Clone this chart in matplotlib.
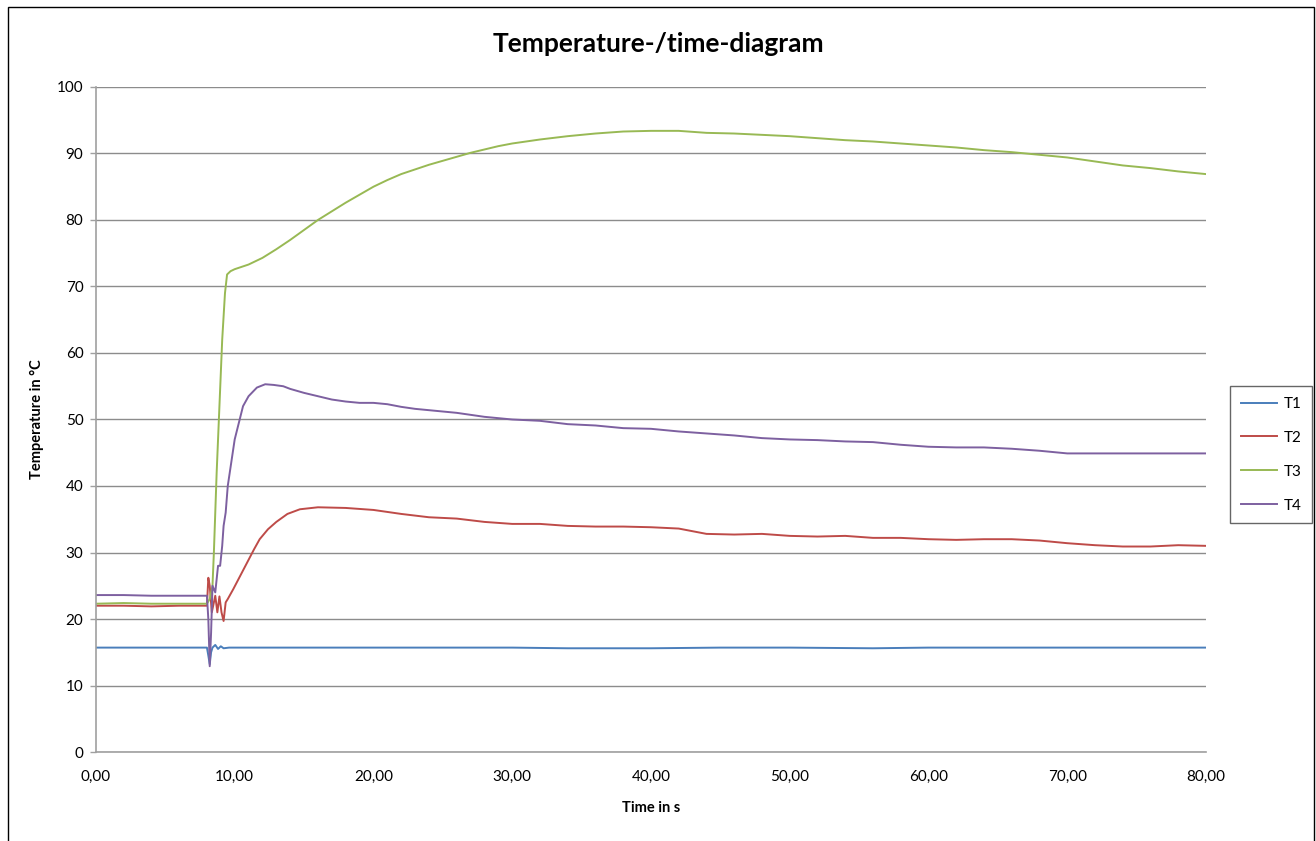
import matplotlib.pyplot as plt
from matplotlib.patches import Rectangle
from matplotlib.ticker import FuncFormatter

plt.rcParams['font.family'] = ['Lato', 'DejaVu Sans']

# time (s) and temperatures (degC)
t1_time = [0, 2, 4, 6, 8.0, 8.1, 8.2, 8.3, 8.4, 8.6, 8.8, 9.0, 9.2, 9.6, 10, 20, 30, 34, 40, 45, 50, 56, 60, 70, 80]
t1_temp = [15.7, 15.7, 15.7, 15.7, 15.7, 14.5, 13.2, 15.0, 15.7, 16.1, 15.5, 15.9, 15.6, 15.7, 15.7, 15.7, 15.7, 15.6, 15.6, 15.7, 15.7, 15.6, 15.7, 15.7, 15.7]

t2_time = [0, 2, 4, 6, 8.0, 8.1, 8.2, 8.35, 8.5, 8.6, 8.75, 8.9, 9.05, 9.2, 9.35, 9.5, 9.9, 10.4, 10.9, 11.4, 11.8, 12.4, 13.0, 13.8, 14.7, 16, 18, 20, 22, 24,
           26, 28, 30, 32, 34, 36, 38, 40, 42, 43, 44, 46, 48, 50, 52, 54, 56, 58, 60, 62, 64, 66, 68, 70, 72, 74, 76, 78, 80]
t2_temp = [22.0, 22.0, 21.9, 22.0, 22.0, 26.2, 25.0, 21.0, 22.5, 23.5, 21.0, 23.4, 21.0, 19.7, 22.5, 23.0, 24.5, 26.5, 28.5, 30.5, 32.0, 33.5, 34.6, 35.8, 36.5, 36.8, 36.7, 36.4, 35.8, 35.3,
           35.1, 34.6, 34.3, 34.3, 34.0, 33.9, 33.9, 33.8, 33.6, 33.2, 32.8, 32.7, 32.8, 32.5, 32.4, 32.5, 32.2, 32.2, 32.0, 31.9, 32.0, 32.0, 31.8, 31.4, 31.1, 30.9, 30.9, 31.1, 31.0]

t3_time = [0, 2, 4, 6, 8.0, 8.2, 8.4, 8.5, 8.7, 8.9, 9.1, 9.3, 9.45, 9.7, 10, 11, 12, 13, 14, 15, 16, 17, 18, 19, 20, 21, 22, 23, 24, 25, 26, 27, 28, 29, 30,
           32, 34, 36, 38, 40, 42, 44, 46, 48, 50, 52, 54, 56, 58, 60, 62, 64, 66, 68, 70, 72, 74, 76, 78, 80]
t3_temp = [22.3, 22.4, 22.3, 22.3, 22.3, 23.0, 25.0, 30.0, 42.0, 52.0, 62.0, 69.0, 71.8, 72.3, 72.6, 73.3, 74.3, 75.6, 77.0, 78.5, 80.0, 81.3, 82.6, 83.8, 85.0, 86.0, 86.9, 87.6, 88.3, 88.9, 89.5, 90.1, 90.6, 91.1, 91.5,
           92.1, 92.6, 93.0, 93.3, 93.4, 93.4, 93.1, 93.0, 92.8, 92.6, 92.3, 92.0, 91.8, 91.5, 91.2, 90.9, 90.5, 90.2, 89.8, 89.4, 88.8, 88.2, 87.8, 87.3, 86.9]

t4_time = [0, 2, 4, 6, 8.0, 8.1, 8.2, 8.3, 8.4, 8.6, 8.8, 8.95, 9.1, 9.2, 9.35, 9.5, 9.75, 10.0, 10.3, 10.6, 11.0, 11.6, 12.2, 12.8, 13.5, 14, 15, 16, 17, 18, 19, 20, 21,
           22, 23, 24, 26, 28, 30, 32, 34, 36, 38, 40, 42, 44, 46, 48, 50, 52, 54, 56, 58, 60, 62, 64, 66, 68, 70, 72, 74, 76, 78, 80]
t4_temp = [23.6, 23.6, 23.5, 23.5, 23.5, 20.0, 12.9, 18.0, 25.0, 24.0, 28.0, 28.0, 31.0, 34.0, 36.0, 40.0, 43.5, 47.0, 49.5, 52.0, 53.5, 54.8, 55.3, 55.2, 55.0, 54.6, 54.0, 53.5, 53.0, 52.7, 52.5, 52.5, 52.3,
           51.9, 51.6, 51.4, 51.0, 50.4, 50.0, 49.8, 49.3, 49.1, 48.7, 48.6, 48.2, 47.9, 47.6, 47.2, 47.0, 46.9, 46.7, 46.6, 46.2, 45.9, 45.8, 45.8, 45.6, 45.3, 44.9, 44.9, 44.9, 44.9, 44.9, 44.9]

series = [("T1", t1_time, t1_temp, "#4A7EBB"),
          ("T2", t2_time, t2_temp, "#BE4B48"),
          ("T3", t3_time, t3_temp, "#98B954"),
          ("T4", t4_time, t4_temp, "#7D60A0")]

fig = plt.figure(figsize=(13.16, 8.41), dpi=100)
ax = fig.add_axes([0.0729, 0.1058, 0.8435, 0.7908])

for name, x, y, c in series:
    ax.plot(x, y, color=c, lw=1.4, label=name)

ax.set_xlim(0, 80)
ax.set_ylim(0, 100)
ax.set_xticks(range(0, 81, 10))
ax.set_yticks(range(0, 101, 10))
ax.xaxis.set_major_formatter(FuncFormatter(lambda v, p: f"{v:.2f}".replace(".", ",")))
ax.grid(axis='y', color='#8C8C8C', lw=1.0)
ax.set_axisbelow(True)
for s in ['top', 'right']:
    ax.spines[s].set_visible(False)
for s in ['left', 'bottom']:
    ax.spines[s].set_color('#A0A0A0')
    ax.spines[s].set_linewidth(1.2)
ax.tick_params(axis='y', colors='#A0A0A0', labelcolor='black', labelsize=11, length=4, width=1.0, pad=5)
ax.tick_params(axis='x', labelcolor='black', labelsize=11, length=0, pad=13)

ax.set_xlabel("Time in s", fontsize=10.5, fontweight='bold', labelpad=12)
ax.set_ylabel("Temperature in °C", fontsize=10.5, fontweight='bold', labelpad=9)
fig.text(0.5, 0.948, "Temperature-/time-diagram", ha='center', va='center', fontsize=19, fontweight='bold')

leg = fig.legend(loc='center', bbox_to_anchor=(0.9658, 0.4593), frameon=True, fancybox=False,
                 fontsize=11, handlelength=2.4, labelspacing=1.3, borderpad=0.7, handletextpad=0.4)
leg.get_frame().set_edgecolor('#404040')
leg.get_frame().set_linewidth(1.0)

# outer chart border
fig.patches.append(Rectangle((8 / 1316, -0.01), 1306 / 1316, 1 - 7 / 841 + 0.01, transform=fig.transFigure,
                             fill=False, edgecolor='black', lw=1.0))

fig.savefig("out.png", dpi=100)
